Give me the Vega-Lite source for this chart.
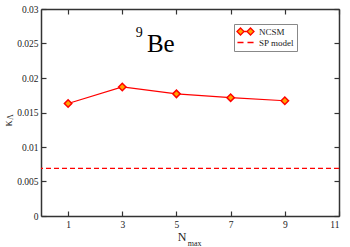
{
  "$schema": "https://vega.github.io/schema/vega-lite/v6.json",
  "width": 298,
  "height": 207,
  "autosize": {"type": "none"},
  "padding": {"left": 41, "top": 9, "right": 11, "bottom": 31},
  "background": "white",
  "config": {
    "view": {"stroke": null},
    "font": "Liberation Serif",
    "axis": {
      "labelFont": "Liberation Serif",
      "titleFont": "Liberation Serif",
      "labelFontSize": 9.5,
      "labelColor": "#222",
      "titleColor": "#222",
      "titleFontWeight": "normal",
      "domainColor": "#333",
      "domainWidth": 1.5,
      "tickColor": "#333",
      "tickWidth": 1.2,
      "tickSize": -5,
      "grid": false
    },
    "legend": {
      "labelFont": "Liberation Serif"
    }
  },
  "datasets": {
    "ncsm": [
      {"Nmax": 1, "kappa": 0.0163, "series": "NCSM"},
      {"Nmax": 3, "kappa": 0.0187, "series": "NCSM"},
      {"Nmax": 5, "kappa": 0.0177, "series": "NCSM"},
      {"Nmax": 7, "kappa": 0.01715, "series": "NCSM"},
      {"Nmax": 9, "kappa": 0.0167, "series": "NCSM"}
    ],
    "sp": [
      {"kappa": 0.0069, "series": "SP model"}
    ],
    "labels": [
      {"nucleus": "Be", "mass": "9", "xsub": "max", "ysub": "Λ"}
    ]
  },
  "resolve": {"axis": {"x": "independent", "y": "independent"}},
  "layer": [
    {
      "data": {"name": "sp"},
      "mark": {"type": "rule", "strokeWidth": 1.3, "strokeDash": [5, 3]},
      "encoding": {
        "y": {
          "field": "kappa", "type": "quantitative",
          "scale": {"domain": [0, 0.03], "nice": false},
          "axis": {"orient": "right", "labels": false, "title": null, "values": [0, 0.005, 0.01, 0.015, 0.02, 0.025, 0.03]}
        },
        "stroke": {
          "field": "series", "type": "nominal",
          "scale": {"domain": ["NCSM", "SP model"], "range": ["#ff0000", "#ff0000"]},
          "legend": {
            "title": null,
            "orient": "none",
            "legendX": 193,
            "legendY": 15,
            "padding": 3,
            "strokeColor": "#888",
            "fillColor": "white",
            "labelFontSize": 9,
            "labelColor": "#222",
            "symbolSize": 49,
            "rowPadding": -2,
            "labelOffset": 9,
            "symbolOffset": 4,
            "encode": {
              "symbols": {
                "update": {
                  "shape": {"signal": "datum.value === 'NCSM' ? 'M-1.43,-1L-0.43,0L-1.43,1L-2.43,0Z M1.43,-1L2.43,0L1.43,1L0.43,0Z M-0.43,0H0.43' : 'M-2.3,0H-0.57M0.57,0H2.3'"},
                  "fill": {"signal": "datum.value === 'NCSM' ? '#ffa500' : 'transparent'"},
                  "stroke": {"value": "#ff0000"},
                  "strokeWidth": {"value": 1.3},
                  "opacity": {"value": 1},
                  "strokeDash": {"value": []}
                }
              }
            }
          }
        }
      }
    },
    {
      "data": {"name": "ncsm"},
      "mark": {"type": "line", "strokeWidth": 1.2},
      "encoding": {
        "x": {
          "field": "Nmax", "type": "quantitative",
          "scale": {"domain": [0, 11], "nice": false},
          "axis": {"orient": "top", "labels": false, "title": null, "values": [1, 3, 5, 7, 9, 11]}
        },
        "y": {"field": "kappa", "type": "quantitative", "scale": {"domain": [0, 0.03], "nice": false},
          "axis": {"orient": "left", "values": [0, 0.005, 0.01, 0.015, 0.02, 0.025, 0.03], "format": "~g", "labelPadding": 8,
            "title": "κ", "titleFontSize": 12, "titleAngle": 270, "titleX": -34, "titleY": 114, "titleAlign": "center", "titleBaseline": "middle"}},
        "stroke": {"field": "series", "type": "nominal"}
      }
    },
    {
      "data": {"name": "ncsm"},
      "mark": {"type": "point", "shape": "diamond", "filled": true, "fill": "#ffa500", "stroke": "#ff0000", "strokeWidth": 1.5, "size": 55, "opacity": 1},
      "encoding": {
        "x": {"field": "Nmax", "type": "quantitative",
          "axis": {"orient": "bottom", "values": [1, 3, 5, 7, 9, 11], "labelPadding": 8,
            "title": "N", "titleFontSize": 12, "titleX": 140.5, "titleY": 20, "titleAlign": "center", "titleBaseline": "middle"}},
        "y": {"field": "kappa", "type": "quantitative", "axis": null}
      }
    },
    {
      "data": {"name": "labels"},
      "mark": {"type": "text", "font": "Liberation Serif", "fontSize": 25, "align": "left", "baseline": "alphabetic", "color": "black"},
      "encoding": {"x": {"datum": 3.91, "type": "quantitative", "axis": null}, "y": {"datum": 0.02377, "type": "quantitative", "axis": null}, "text": {"field": "nucleus"}}
    },
    {
      "data": {"name": "labels"},
      "mark": {"type": "text", "font": "Liberation Serif", "fontSize": 14, "align": "center", "baseline": "alphabetic", "color": "black"},
      "encoding": {"x": {"datum": 3.63, "type": "quantitative", "axis": null}, "y": {"datum": 0.02594, "type": "quantitative", "axis": null}, "text": {"field": "mass"}}
    },
    {
      "data": {"name": "labels"},
      "mark": {"type": "text", "font": "Liberation Serif", "fontSize": 8, "align": "center", "baseline": "middle", "color": "#222"},
      "encoding": {"x": {"datum": 5.67, "type": "quantitative", "axis": null}, "y": {"datum": -0.00406, "type": "quantitative", "axis": null}, "text": {"field": "xsub"}}
    },
    {
      "data": {"name": "labels"},
      "mark": {"type": "text", "font": "Liberation Serif", "fontSize": 8, "align": "center", "baseline": "middle", "angle": 270, "color": "#222"},
      "encoding": {"x": {"datum": -1.107, "type": "quantitative", "axis": null}, "y": {"datum": 0.01435, "type": "quantitative", "axis": null}, "text": {"field": "ysub"}}
    }
  ]
}
